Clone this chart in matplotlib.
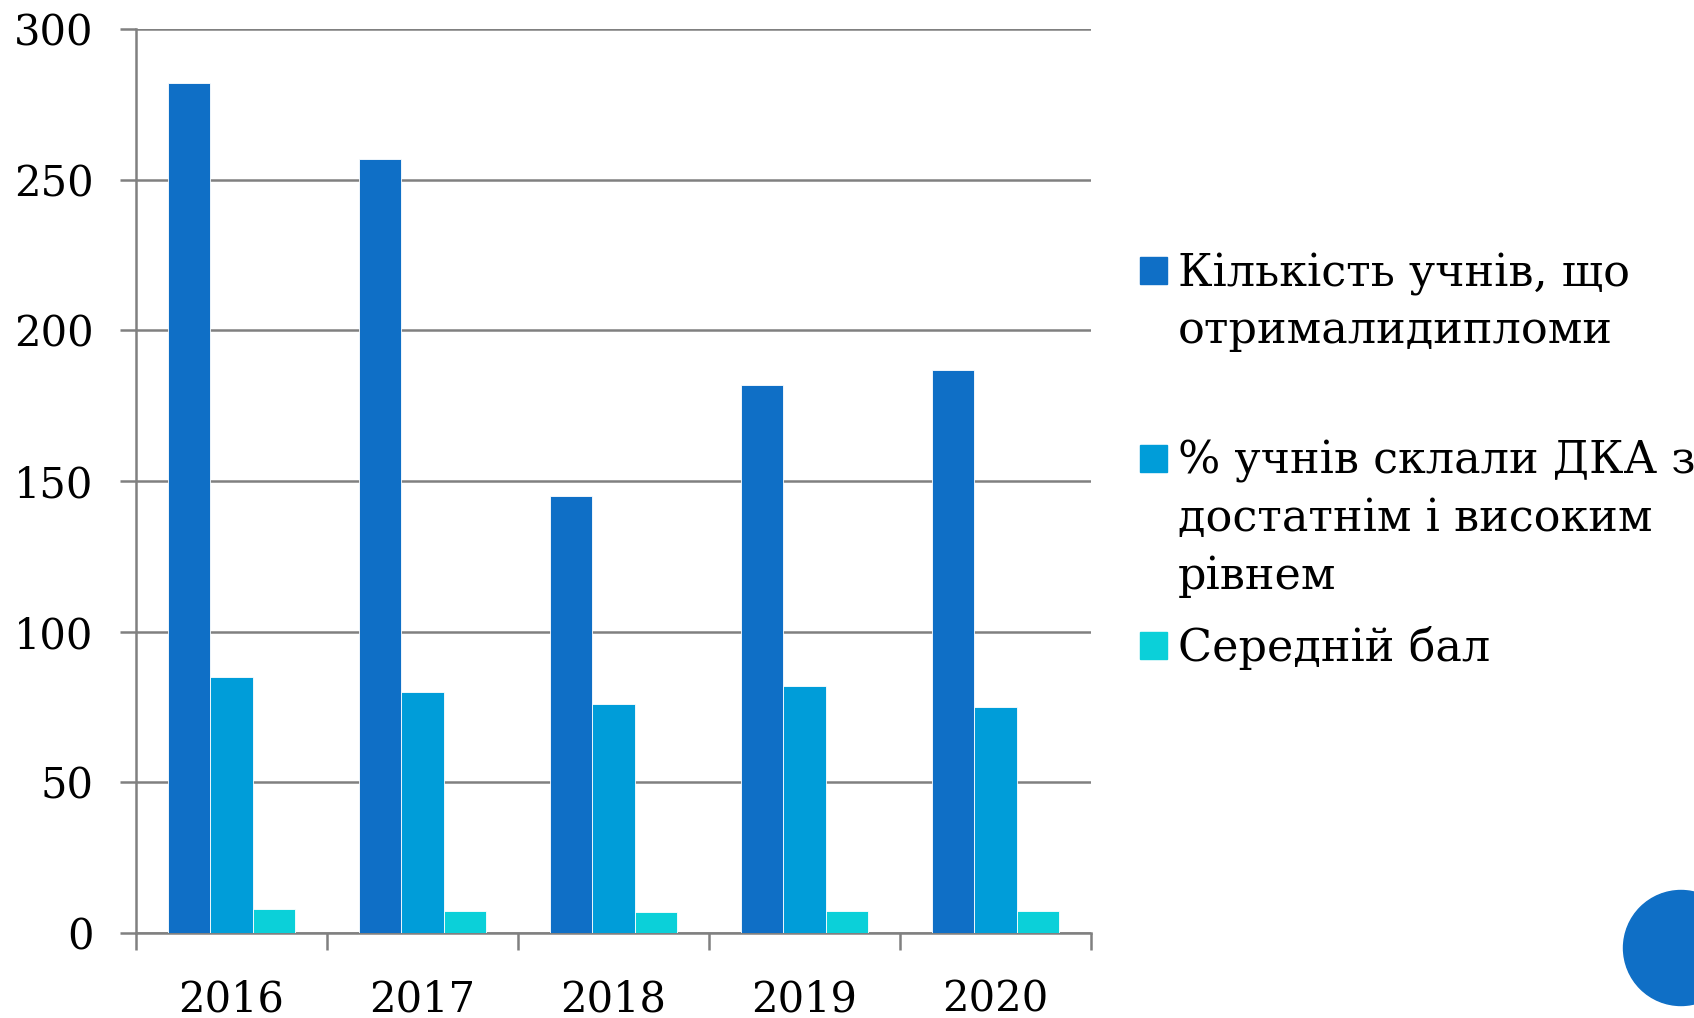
import numpy as np
import matplotlib.pyplot as plt
from matplotlib.patches import Rectangle, Circle

years = ['2016', '2017', '2018', '2019', '2020']
diplomas = [282, 257, 145, 182, 187]
pct_high = [85, 80, 76, 82, 75]
avg_score = [7.9, 7.4, 7.1, 7.3, 7.3]
labels = ['Кількість учнів, що\nотрималидипломи',
          '% учнів склали ДКА з\nдостатнім і високим\nрівнем',
          'Середній бал']
colors = ['#0F6FC6', '#009DD9', '#0BD0D9']

plt.rcParams['font.family'] = ['DejaVu Serif']
W, H = 1694, 1018
fig = plt.figure(figsize=(W / 100, H / 100), dpi=100)
ax = fig.add_axes([136 / W, 1 - 933 / H, (1091 - 136) / W, (933 - 29) / H])

x = np.arange(len(years))
bw = 0.222
series = [diplomas, pct_high, avg_score]
for i, vals in enumerate(series):
    ax.bar(x + (i - 1) * bw, vals, bw, color=colors[i], edgecolor='white',
           linewidth=0.6, zorder=3)

grey = '#808080'
ax.set_ylim(0, 300)
ax.set_xlim(-0.5, len(years) - 0.5)
ax.set_yticks(np.arange(0, 301, 50))
ax.yaxis.grid(True, color=grey, linewidth=1.8)
ax.set_axisbelow(True)
ax.set_xticks(x)
ax.set_xticklabels(years)
ax.set_xticks(np.arange(-0.5, len(years)), minor=True)
ax.tick_params(axis='x', which='major', length=0, pad=33, labelsize=30)
ax.tick_params(axis='x', which='minor', length=12, width=1.8, color=grey, direction='out')
ax.tick_params(axis='y', length=11.5, width=1.8, color=grey, pad=19, labelsize=30)
for s in ['top', 'right']:
    ax.spines[s].set_visible(False)
for s in ['left', 'bottom']:
    ax.spines[s].set_color(grey)
    ax.spines[s].set_linewidth(1.8)

# legend drawn by hand (entries spaced by their first lines)
y0, step, lh = 286, 187.5, 57.5
for i, lab in enumerate(labels):
    yb = y0 + i * step
    fig.patches.append(Rectangle((1140 / W, 1 - (yb - 2) / H), 27 / W, 27 / H,
                                 transform=fig.transFigure, color=colors[i]))
    for j, line in enumerate(lab.split('\n')):
        fig.text(1178 / W, 1 - (yb + j * lh) / H, line, fontsize=32,
                 va='baseline', ha='left')

fig.patches.append(Circle((1681, H - 948), 57.5, transform=None, color='#0F6FC6'))

fig.savefig('out.png', dpi=100)
